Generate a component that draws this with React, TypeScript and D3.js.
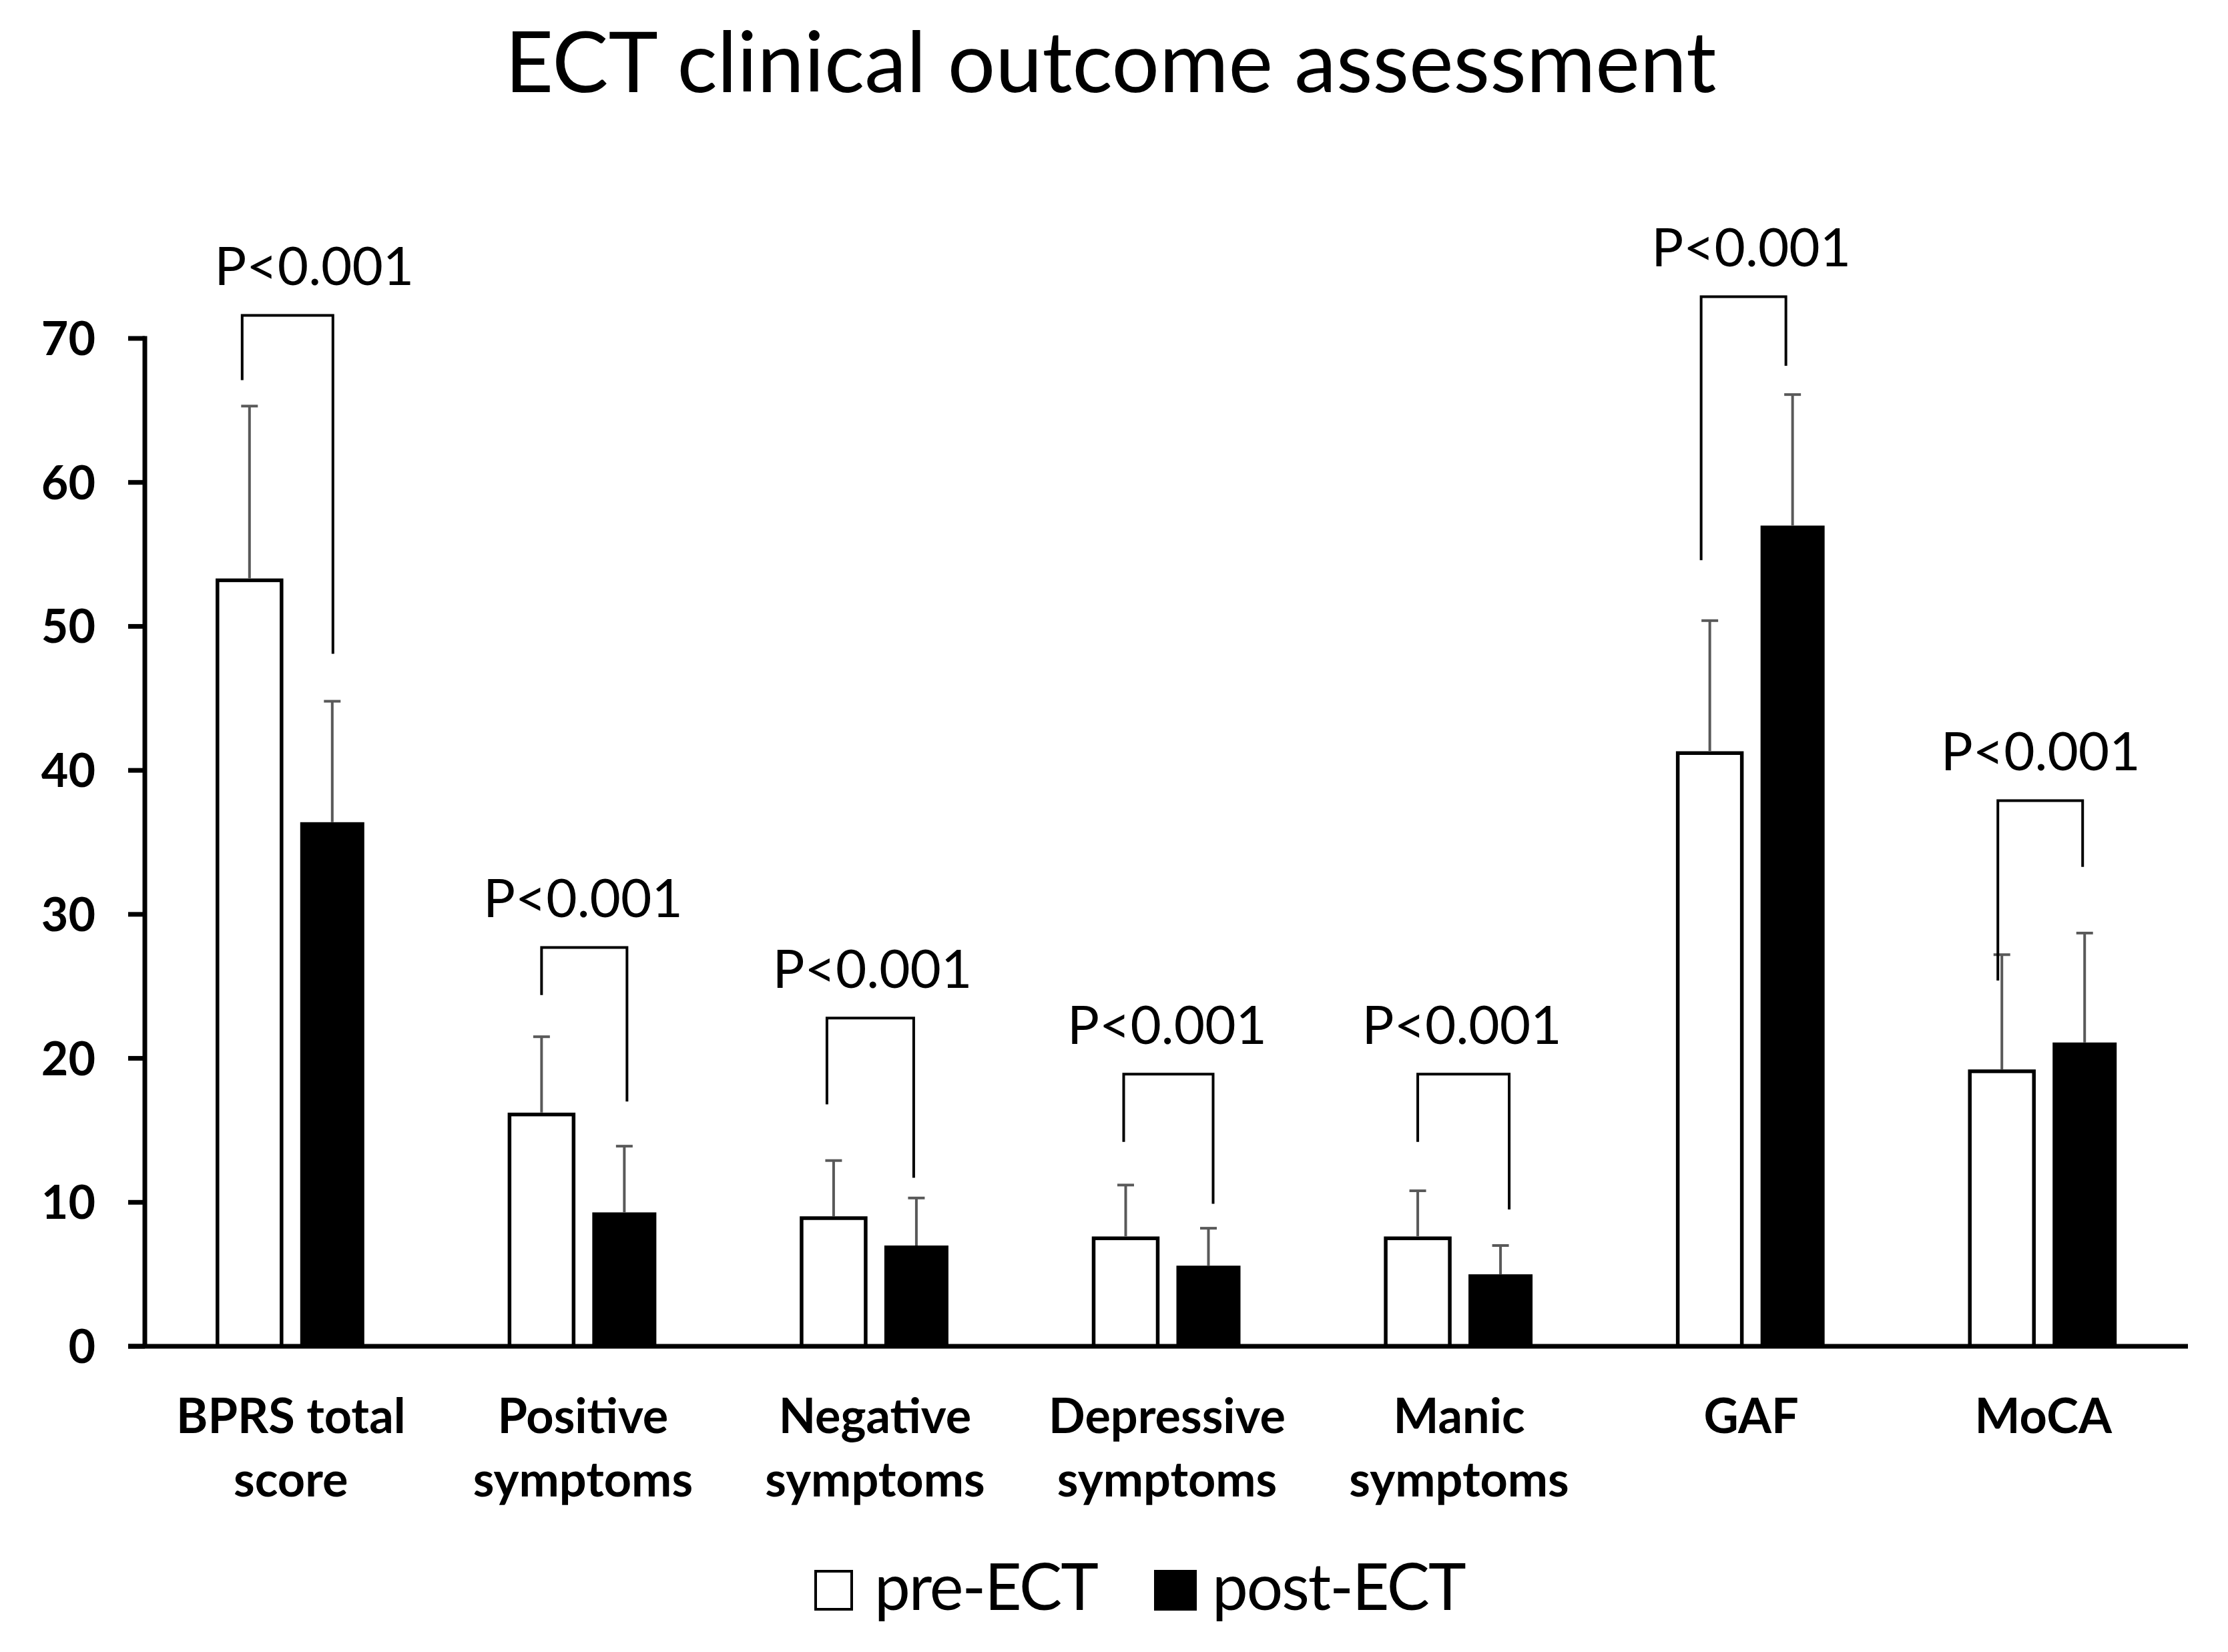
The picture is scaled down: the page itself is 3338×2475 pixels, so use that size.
import React from 'react';
import * as d3 from 'd3';

const categories: string[][] = [
  ['BPRS total', 'score'],
  ['Positive', 'symptoms'],
  ['Negative', 'symptoms'],
  ['Depressive', 'symptoms'],
  ['Manic', 'symptoms'],
  ['GAF'],
  ['MoCA'],
];
const preMean = [53.2, 16.1, 8.9, 7.5, 7.5, 41.2, 19.1];
const preSD = [12.1, 5.4, 4.0, 3.7, 3.3, 9.2, 8.1];
const postMean = [36.4, 9.3, 7.0, 5.6, 5.0, 57.0, 21.1];
const postSD = [8.4, 4.6, 3.3, 2.6, 2.0, 9.1, 7.6];
const bracketTop = [71.6, 27.7, 22.8, 18.9, 18.9, 72.9, 37.9];
const bracketPreEnd = [67.1, 24.4, 16.8, 14.2, 14.2, 54.6, 25.4];
const bracketPostEnd = [48.1, 17.0, 11.7, 9.9, 9.5, 68.1, 33.3];
const pLabels = ['P<0.001', 'P<0.001', 'P<0.001', 'P<0.001', 'P<0.001', 'P<0.001', 'P<0.001'];
const yTicks = [0, 10, 20, 30, 40, 50, 60, 70];
const seriesNames = ['pre-ECT', 'post-ECT'];
const titleText = 'ECT clinical outcome assessment';

// drawing tweaks (pixels) for the hand-placed annotations
const pLabelShift = [35, 0, -4, 0, 4, 0, -4];
const legLeftShift = [-11, 0, -10, -3, 0, -13, -6];
const legRightShift = [1, 4, -4, 7, 13, -10, -3];

export default function App() {
  const W = 3338, H = 2475;
  const names = categories.map((c) => c.join(' '));
  const x = d3.scaleBand<string>().domain(names).range([217, 3280]).padding(0);
  const y = d3.scaleLinear().domain([0, 70]).range([2017, 507]);
  const bw = x.bandwidth();
  const barW = 96;
  const gap = 14;
  const font = 'Lato, Carlito, Calibri, sans-serif';
  const errColor = '#595959';

  return (
    <svg width={W} height={H} viewBox={`0 0 ${W} ${H}`}
      style={{ position: 'absolute', left: 0, top: 0, display: 'block', background: '#fff' }}>
      <rect x={0} y={0} width={W} height={H} fill="#fff" />
      <text x={1664} y={138} textAnchor="middle" fontFamily={font} fontSize={126} fill="#000">{titleText}</text>

      {/* y axis */}
      <line x1={217} x2={217} y1={y(70) - 3.5} y2={y(0)} stroke="#000" strokeWidth={7} />
      {yTicks.map((t) => (
        <g key={t}>
          <line x1={192} x2={217} y1={y(t)} y2={y(t)} stroke="#000" strokeWidth={7} />
          <text x={143} y={y(t) + 25} textAnchor="end" fontFamily={font} fontWeight={700} fontSize={70} fill="#000">{t}</text>
        </g>
      ))}

      {names.map((n, i) => {
        const c = (x(n) as number) + bw / 2;
        const preX = c - gap - barW;
        const postX = c + gap;
        const preC = preX + barW / 2;
        const postC = postX + barW / 2;
        return (
          <g key={n}>
            {/* pre bar */}
            <rect x={preX} y={y(preMean[i])} width={barW} height={y(0) - y(preMean[i])} fill="#fff" stroke="#000" strokeWidth={5.5} />
            {/* post bar */}
            <rect x={postX} y={y(postMean[i])} width={barW} height={y(0) - y(postMean[i])} fill="#000" />
            {/* error bars */}
            <line x1={preC} x2={preC} y1={y(preMean[i]) - 3} y2={y(preMean[i] + preSD[i])} stroke={errColor} strokeWidth={4} />
            <line x1={preC - 12.5} x2={preC + 12.5} y1={y(preMean[i] + preSD[i])} y2={y(preMean[i] + preSD[i])} stroke={errColor} strokeWidth={4} />
            <line x1={postC} x2={postC} y1={y(postMean[i])} y2={y(postMean[i] + postSD[i])} stroke={errColor} strokeWidth={4} />
            <line x1={postC - 12.5} x2={postC + 12.5} y1={y(postMean[i] + postSD[i])} y2={y(postMean[i] + postSD[i])} stroke={errColor} strokeWidth={4} />
            {/* bracket */}
            <path d={`M${preC + legLeftShift[i]},${y(bracketPreEnd[i])}V${y(bracketTop[i])}H${postC + legRightShift[i]}V${y(bracketPostEnd[i])}`}
              fill="none" stroke="#000" strokeWidth={4} />
            <text x={c + pLabelShift[i]} y={y(bracketTop[i]) - 45} textAnchor="middle" fontFamily={font} fontSize={80} fill="#000">{pLabels[i]}</text>
            {/* category label */}
            <text textAnchor="middle" fontFamily={font} fontWeight={700} fontSize={72} fill="#000">
              {categories[i].map((line, k) => (
                <tspan key={k} x={c} y={2147 + k * 95}>{line}</tspan>
              ))}
            </text>
          </g>
        );
      })}

      {/* x axis */}
      <line x1={192} x2={3278} y1={y(0)} y2={y(0)} stroke="#000" strokeWidth={7} />

      {/* legend */}
      <rect x={1222} y={2354} width={54} height={57} fill="#fff" stroke="#000" strokeWidth={4} />
      <text x={1310} y={2412} fontFamily={font} fontSize={96} letterSpacing={-2} fill="#000">{seriesNames[0]}</text>
      <rect x={1729} y={2352} width={64} height={61} fill="#000" />
      <text x={1816} y={2412} fontFamily={font} fontSize={96} letterSpacing={-2} fill="#000">{seriesNames[1]}</text>
    </svg>
  );
}
